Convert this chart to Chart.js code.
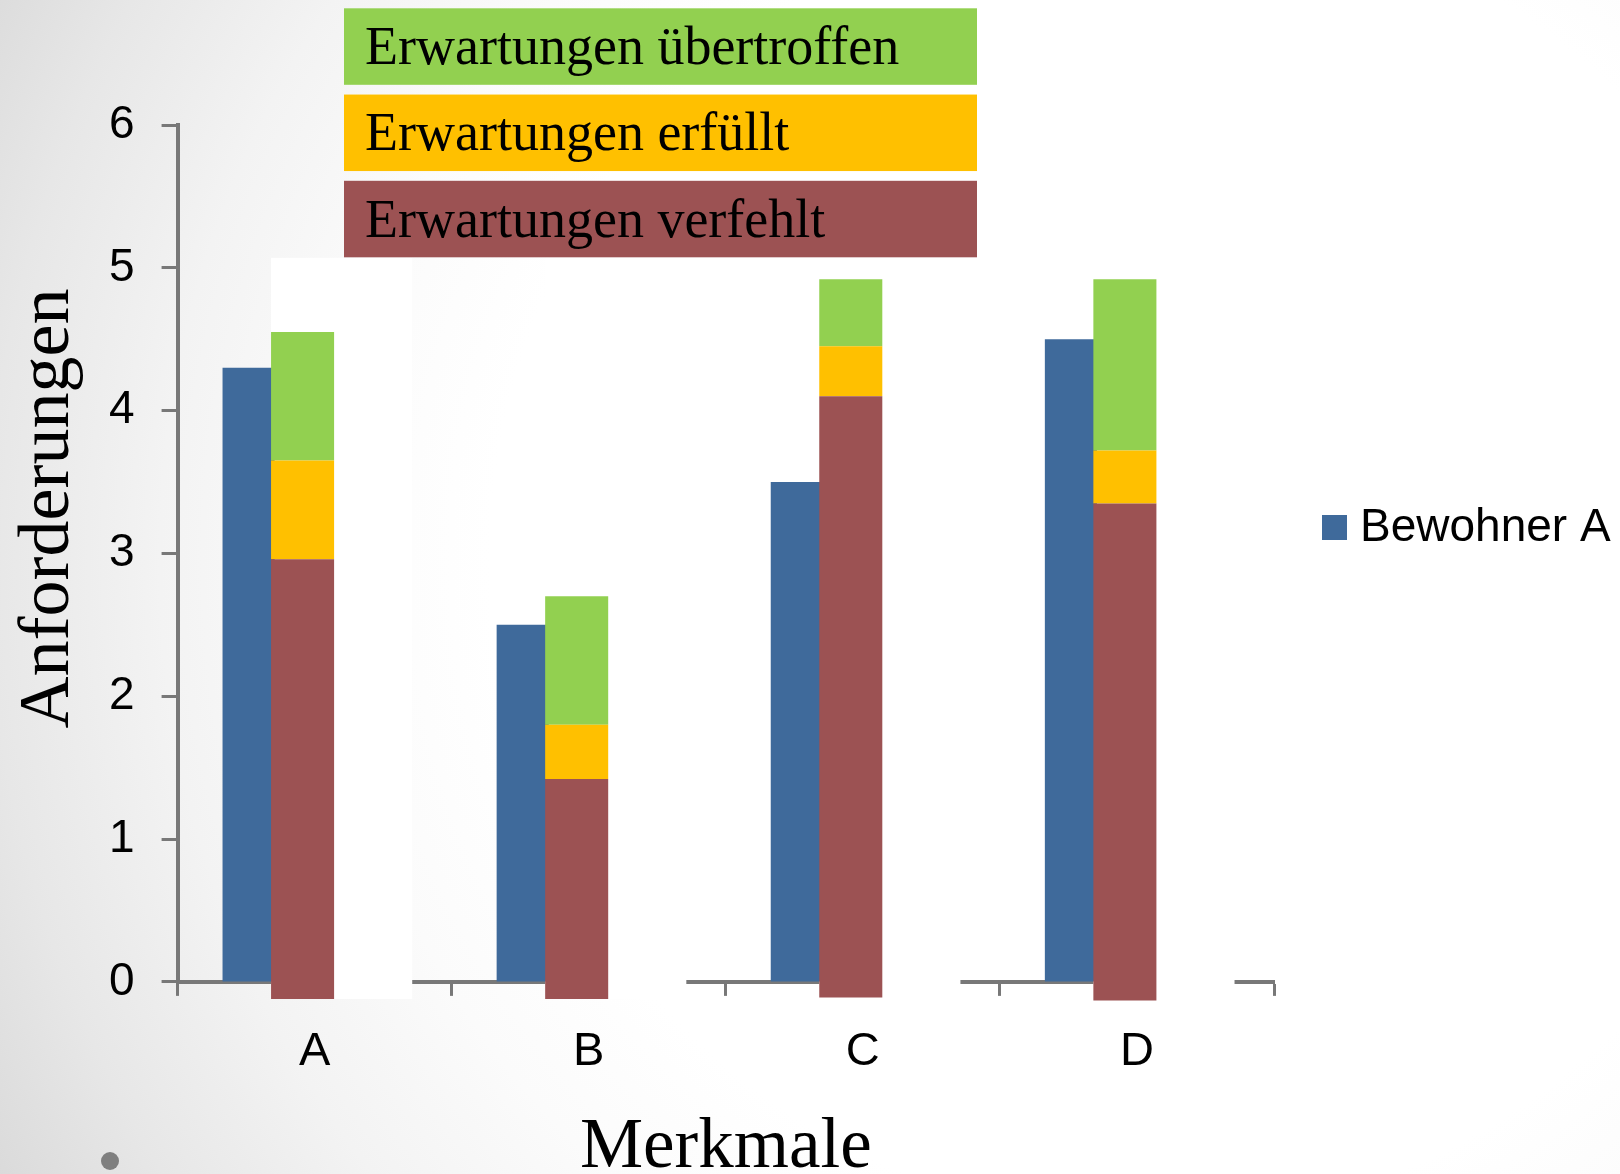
<!DOCTYPE html>
<html>
<head>
<meta charset="utf-8">
<title>Anforderungen je Merkmal</title>
<script src="https://cdn.jsdelivr.net/npm/chart.js@4.4.1/dist/chart.umd.min.js"></script>
<style>
  html, body { margin: 0; padding: 0; background: #ffffff; }
  canvas { display: block; }
</style>
</head>
<body>
<canvas id="chart" width="1620" height="1174"></canvas>
<script>
// ---- data -------------------------------------------------------------
const categories = ['A', 'B', 'C', 'D'];
const bewohnerA = [4.3, 2.5, 3.5, 4.5];

// assessment bars: lower edge and the upper edge of each band
const overlayBase     = [-0.12, -0.12, -0.11, -0.13];
const verfehltTop     = [2.96, 1.42, 4.10, 3.35];
const erfuelltTop     = [3.65, 1.80, 4.45, 3.72];
const uebertroffenTop = [4.55, 2.70, 4.92, 4.92];

const yTicks = [0, 1, 2, 3, 4, 5, 6];

// ---- styling ----------------------------------------------------------
const COLORS = {
  bewohner: '#3F6A9B',
  verfehlt: '#9C5253',
  erfuellt: '#FFC000',
  uebertroffen: '#92D050',
  axis: '#787878'
};
const SANS = "'Liberation Sans', Arial, sans-serif";
const SERIF = "'Liberation Serif', 'Times New Roman', serif";

// where the bars sit inside one category slot (fraction of the slot width)
const BLUE_CENTER = 0.259;
const BAND_CENTER = 0.456;
const PANEL_SPAN = 0.515;   // white backing panel width behind the bands
const PANEL_TOP = 5.07;     // its upper edge, in axis units

const points = values => values.map((v, i) => ({ x: i, y: v }));
const spans = (lo, hi) => lo.map((v, i) => ({ x: i, y: [v, hi[i]] }));

// hidden linear axis that places category i at the given fraction of its slot
function slotAxis(center) {
  return {
    type: 'linear',
    axis: 'x',
    display: false,
    offset: false,
    bounds: 'data',
    min: -center,
    max: categories.length - center,
    grid: { offset: false },
    afterBuildTicks: s => { s.ticks = categories.map((_, i) => ({ value: i })); }
  };
}

const bandDefaults = {
  xAxisID: 'xo',
  grouped: false,
  categoryPercentage: 1,
  barPercentage: 0.23,
  borderWidth: 0,
  clip: false,
  order: 1
};

// ---- plugins ----------------------------------------------------------
const slideBackground = {
  id: 'slideBackground',
  beforeDraw(chart) {
    const { ctx, width, height } = chart;
    ctx.save();
    const g = ctx.createRadialGradient(1150, 560, 0, 1150, 560, 1320);
    g.addColorStop(0, '#ffffff');
    g.addColorStop(0.5, '#ffffff');
    g.addColorStop(0.62, '#fbfbfb');
    g.addColorStop(0.75, '#f3f3f3');
    g.addColorStop(0.88, '#e7e7e7');
    g.addColorStop(1, '#d9d9d9');
    ctx.fillStyle = g;
    ctx.fillRect(0, 0, width, height);
    // bullet of the slide's empty text line
    ctx.fillStyle = '#7f7f7f';
    ctx.beginPath();
    ctx.arc(110, 1161, 9, 0, Math.PI * 2);
    ctx.fill();
    ctx.restore();
  }
};

const bandPanels = {
  id: 'bandPanels',
  beforeDatasetsDraw(chart) {
    const { ctx } = chart;
    const xo = chart.scales.xo;
    const y = chart.scales.y;
    const panelW = xo.getPixelForValue(PANEL_SPAN) - xo.getPixelForValue(0);
    const top = y.getPixelForValue(PANEL_TOP);
    ctx.save();
    ctx.fillStyle = '#ffffff';
    chart.getDatasetMeta(0).data.forEach(bar => {
      const left = bar.x - bar.width / 2;
      ctx.fillRect(left, top, panelW, bar.base - top);
    });
    ctx.restore();
  }
};

const axisTitleY = {
  id: 'axisTitleY',
  afterDraw(chart) {
    const { ctx } = chart;
    ctx.save();
    ctx.translate(68, 508.5);
    ctx.rotate(-Math.PI / 2);
    ctx.font = "72px " + SERIF;
    ctx.fillStyle = '#000000';
    ctx.textAlign = 'center';
    ctx.textBaseline = 'alphabetic';
    ctx.fillText('Anforderungen', 0, 0);
    ctx.restore();
  }
};

const legends = {
  id: 'legends',
  afterDraw(chart) {
    const { ctx } = chart;
    const ds = chart.data.datasets;
    ctx.save();
    // labelled colour panels for the three assessment bands, top to bottom
    [2, 1, 0].forEach((di, k) => {
      const top = 8.3 + k * 86.25;
      ctx.fillStyle = ds[di].backgroundColor;
      ctx.fillRect(344, top, 633, 76.5);
      ctx.fillStyle = '#000000';
      ctx.font = "54px " + SERIF;
      ctx.textAlign = 'left';
      ctx.textBaseline = 'alphabetic';
      ctx.fillText(ds[di].label, 365, top + 55.7);
    });
    // series key
    const blue = ds[3];
    ctx.fillStyle = blue.backgroundColor;
    ctx.fillRect(1322, 515, 25, 25);
    ctx.fillStyle = '#000000';
    ctx.font = "46px " + SANS;
    ctx.fillText(blue.label, 1360, 541);
    ctx.restore();
  }
};

// ---- chart ------------------------------------------------------------
new Chart(document.getElementById('chart'), {
  type: 'bar',
  data: {
    labels: categories,
    datasets: [
      Object.assign({ label: 'Erwartungen verfehlt', data: spans(overlayBase, verfehltTop),
        backgroundColor: COLORS.verfehlt }, bandDefaults),
      Object.assign({ label: 'Erwartungen erfüllt', data: spans(verfehltTop, erfuelltTop),
        backgroundColor: COLORS.erfuellt }, bandDefaults),
      Object.assign({ label: 'Erwartungen übertroffen', data: spans(erfuelltTop, uebertroffenTop),
        backgroundColor: COLORS.uebertroffen }, bandDefaults),
      {
        label: 'Bewohner A',
        data: points(bewohnerA),
        backgroundColor: COLORS.bewohner,
        xAxisID: 'xb',
        grouped: false,
        categoryPercentage: 1,
        barPercentage: 0.19,
        borderWidth: 0,
        order: 2
      }
    ]
  },
  options: {
    responsive: false,
    devicePixelRatio: 1,
    animation: false,
    events: [],
    layout: { padding: { left: 82, right: 346, top: 125, bottom: 0 } },
    plugins: {
      legend: { display: false },
      tooltip: { enabled: false },
      title: { display: false }
    },
    scales: {
      x: {
        type: 'category',
        position: 'bottom',
        offset: true,
        grid: {
          offset: true,
          drawOnChartArea: false,
          drawTicks: true,
          tickLength: 14,
          tickWidth: 3,
          tickColor: COLORS.axis
        },
        border: { display: true, color: COLORS.axis, width: 4 },
        ticks: {
          color: '#000000',
          padding: 33,
          font: { family: SANS, size: 47, lineHeight: 1 }
        },
        title: {
          display: true,
          text: 'Merkmale',
          color: '#000000',
          font: { family: SERIF, size: 71, lineHeight: 0.72 },
          padding: { top: 14, bottom: 0 }
        }
      },
      xb: slotAxis(BLUE_CENTER),
      xo: slotAxis(BAND_CENTER),
      y: {
        type: 'linear',
        position: 'left',
        min: 0,
        max: 6,
        afterBuildTicks: s => { s.ticks = yTicks.map(v => ({ value: v })); },
        grid: {
          drawOnChartArea: false,
          drawTicks: true,
          tickLength: 16,
          tickWidth: 3,
          tickColor: COLORS.axis
        },
        border: { display: true, color: COLORS.axis, width: 4 },
        ticks: {
          color: '#000000',
          padding: 27,
          font: { family: SANS, size: 46, lineHeight: 1 }
        }
      }
    }
  },
  plugins: [slideBackground, bandPanels, axisTitleY, legends]
});
</script>
</body>
</html>
